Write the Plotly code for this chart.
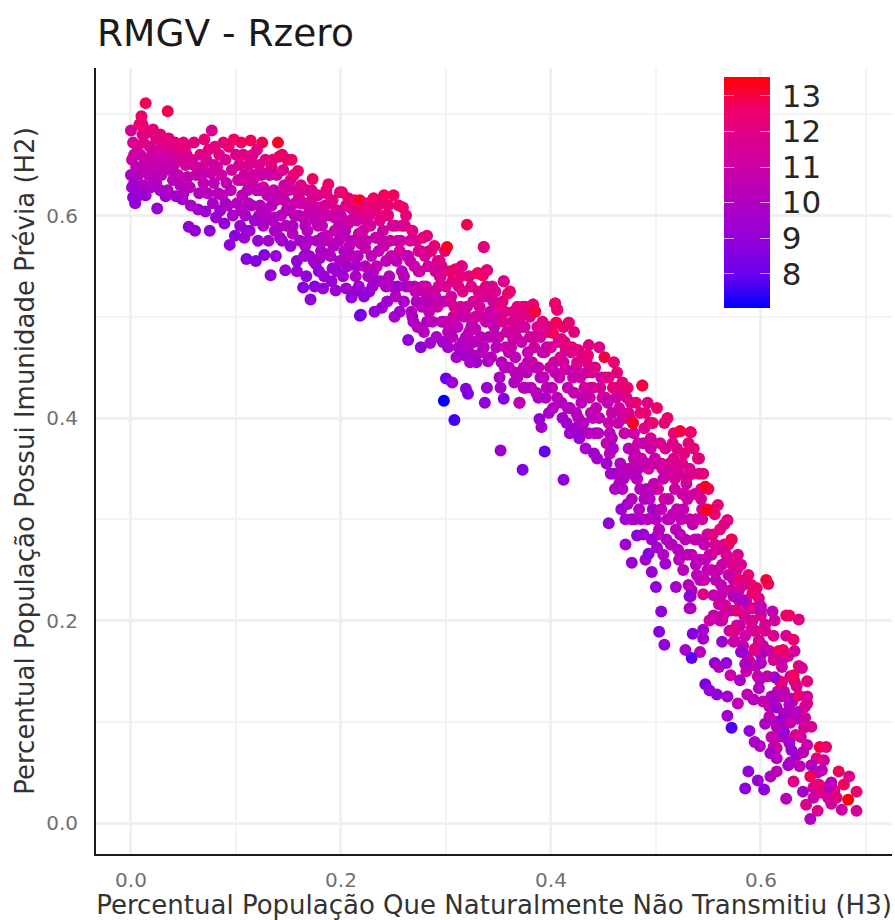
import plotly.graph_objects as go

x_a=[.000,.002,.001,.003,.000,.001,.002,.004,.003,.005, .006,.005,.008,.007,.009,.010,.008,.011,.010,.012, .014,.012,.013,.011,.015,.016,.014,.018,.017,.019, .020,.018,.021,.022,.020,.024,.023,.025,.026,.024, .028,.027,.029,.030,.028,.032,.031,.033,.035,.034, .036,.037,.035,.039,.038,.040,.042,.041,.043,.044, .046,.045,.047,.048,.049,.050,.050,.052,.054,.053]
y_a=[.684,.672,.655,.660,.640,.628,.618,.612,.632,.648, .668,.625,.690,.640,.660,.698,.620,.680,.645,.630, .711,.672,.655,.690,.650,.682,.620,.668,.640,.628, .660,.652,.685,.640,.630,.676,.650,.607,.665,.632, .680,.655,.640,.662,.625,.672,.648,.619,.703,.660, .676,.645,.625,.668,.655,.635,.672,.650,.619,.660, .668,.640,.630,.655,.616,.672,.622,.650,.638,.660]
r_a=[11.4,11.4,11.0,10.8,10.0,9.5,9.0,9.0,9.4,10.4, 11.8,9.2,12.4,10.0,11.2,12.6,9.1,12.2,10.4,9.9, 12.8,11.9,11.0,12.4,10.6,12.2,9.2,11.6,10.4,9.6, 11.2,10.8,12.2,10.4,9.9,12.0,10.8,9.2,11.4,10.1, 12.2,11.0,10.3,11.2,9.6,12.0,10.6,9.4,12.9,11.2, 12.2,10.6,9.9,11.8,11.0,10.4,12.0,10.8,9.4,11.4, 12.0,10.6,10.2,11.3,9.2,12.2,10.0,11.4,10.6,11.6]

x_b=[.052,.055,.058,.056,.060,.061,.062,.064,.066,.065, .068,.070,.069,.072,.071,.074,.073,.076,.077,.075, .078,.080,.079,.082,.081,.084,.083,.086,.085,.088, .087,.090,.091,.089,.093,.094,.092,.096,.095,.098, .097,.100,.099,.102,.101,.060,.067,.090,.079,.057]
y_b=[.668,.589,.655,.628,.672,.585,.640,.606,.660,.622, .648,.675,.632,.655,.604,.665,.622,.642,.684,.585, .612,.668,.632,.648,.598,.660,.622,.640,.605,.672, .620,.655,.632,.592,.668,.571,.610,.645,.625,.675, .600,.660,.580,.635,.612,.650,.640,.612,.650,.610]
r_b=[12.2,9.0,11.4,10.4,12.2,8.9,10.9,9.5,11.8,10.0, 11.2,12.4,10.6,11.6,9.3,12.0,10.2,10.9,11.6,8.9, 9.8,12.2,10.5,11.4,9.2,12.0,10.2,11.0,9.3,12.2, 10.3,11.6,10.6,9.0,12.4,8.9,10.1,11.2,10.5,12.7, 9.6,11.8,8.9,11.0,10.0,11.3,10.7,9.8,11.2,9.8]

x_c=[.103,.105,.104,.107,.106,.108,.110,.109,.112,.111, .114,.113,.115,.117,.116,.119,.118,.120,.122,.121, .123,.125,.124,.127,.126,.128,.130,.129,.133,.132, .131,.135,.134,.136,.137,.140,.139,.138,.141,.143, .142,.145,.144,.147,.146,.148,.149,.105,.120,.135]
y_c=[.650,.672,.590,.660,.620,.640,.557,.600,.650,.625, .674,.585,.610,.640,.660,.555,.595,.625,.650,.575, .610,.672,.640,.561,.590,.655,.620,.600,.541,.640, .575,.655,.610,.625,.585,.672,.640,.560,.658,.600, .620,.645,.575,.546,.630,.590,.655,.605,.665,.595]
r_c=[11.5,12.7,9.3,12.0,10.4,11.1,8.6,9.6,11.6,10.4, 12.8,9.2,10.0,11.2,11.8,8.6,9.5,10.6,11.6,9.2, 10.2,12.9,11.0,8.8,9.8,12.0,10.5,10.1,8.9,11.0, 9.6,12.2,10.2,10.6,9.8,13.2,11.2,9.1,12.6,10.3, 10.7,11.6,9.5,9.1,11.1,10.0,12.4,10.1,12.0,10.0]

x_d=[.150,.151,.153,.152,.155,.154,.156,.159,.158,.157, .160,.162,.161,.164,.163,.166,.165,.168,.167,.171, .170,.169,.173,.172,.174,.176,.175,.178,.177,.180, .179,.183,.182,.181,.185,.184,.186,.188,.187,.190, .189,.192,.191,.195,.194,.193,.197,.196,.199,.198]
y_d=[.625,.605,.655,.570,.640,.590,.612,.644,.555,.625, .600,.630,.575,.529,.612,.590,.560,.625,.540,.517, .605,.575,.636,.615,.555,.595,.530,.620,.575,.608, .545,.528,.590,.565,.610,.540,.625,.631,.580,.560, .600,.615,.535,.526,.585,.570,.605,.545,.623,.590]
r_d=[11.2,10.5,12.7,9.3,12.2,10.0,10.9,12.5,9.0,11.4, 10.4,11.8,9.6,8.7,11.0,10.2,9.4,11.6,9.0,9.0, 10.6,9.8,12.7,11.4,9.5,10.5,8.9,11.8,10.0,11.0, 9.0,9.2,10.5,10.0,11.4,9.3,12.2,12.5,10.5,10.0, 11.0,12.0,9.1,9.2,10.6,10.2,11.6,9.4,12.5,10.7]

x_e=[.200,.201,.203,.202,.205,.204,.207,.206,.209,.208, .210,.212,.211,.214,.213,.216,.215,.218,.217,.219, .221,.220,.223,.222,.225,.224,.227,.226,.229,.228, .231,.230,.233,.232,.235,.234,.237,.236,.239,.238, .241,.240,.243,.242,.245,.244,.247,.246,.249,.248]
y_e=[.600,.623,.565,.540,.610,.585,.617,.550,.595,.570, .519,.605,.575,.540,.615,.560,.595,.615,.530,.502, .585,.605,.550,.520,.612,.575,.600,.540,.560,.590, .617,.530,.578,.505,.610,.550,.595,.565,.509,.535, .620,.585,.555,.600,.610,.515,.575,.540,.590,.560]
r_e=[10.8,12.4,9.9,9.4,12.0,10.4,12.5,9.6,11.1,10.2, 9.0,11.6,10.4,9.8,12.5,10.1,11.2,13.2,9.4,8.3, 11.0,12.2,10.3,9.0,12.3,10.6,11.8,9.8,10.4,11.3, 12.7,9.4,10.8,9.0,12.4,10.4,12.0,10.6,9.3,9.8, 12.8,11.2,10.5,12.2,12.4,9.4,11.0,10.1,11.8,10.6]

x_f=[.250,.252,.251,.253,.255,.254,.257,.256,.259,.258, .261,.260,.263,.262,.264,.266,.265,.268,.267,.270, .269,.272,.271,.274,.273,.276,.275,.278,.277,.280, .279,.282,.281,.284,.283,.286,.285,.288,.287,.290, .289,.292,.291,.294,.293,.296,.295,.298,.297,.299]
y_f=[.620,.590,.500,.555,.610,.530,.575,.505,.608,.545, .590,.515,.560,.600,.477,.575,.530,.585,.505,.550, .495,.575,.525,.565,.490,.470,.545,.578,.510,.560, .485,.580,.530,.505,.550,.565,.474,.525,.495,.545, .570,.510,.480,.555,.530,.495,.540,.515,.475,.565]
r_f=[12.8,11.4,9.6,10.4,12.5,9.5,11.0,9.4,12.7,10.1, 11.8,9.8,10.6,12.2,9.0,11.4,10.2,12.0,10.0,10.9, 9.8,11.8,10.6,11.6,10.2,8.8,11.0,12.2,10.2,11.4, 10.3,12.2,11.0,10.6,11.2,12.0,9.5,11.1,10.4,11.3, 12.2,10.8,9.8,12.0,11.2,10.2,11.6,10.8,9.4,12.2]

x_g=[.301,.300,.303,.302,.305,.304,.307,.306,.309,.308, .310,.312,.311,.314,.313,.315,.317,.316,.319,.318, .320,.322,.321,.324,.323,.326,.325,.328,.327,.330, .329,.331,.333,.332,.335,.334,.336,.338,.337,.339, .340,.342,.341,.344,.343,.346,.345,.348,.347,.349]
y_g=[.569,.530,.495,.470,.520,.545,.500,.480,.547,.510, .460,.530,.490,.510,.470,.550,.500,.525,.480,.462, .510,.485,.470,.530,.455,.515,.495,.500,.475,.543, .455,.525,.480,.510,.541,.465,.569,.495,.520,.546, .456,.505,.480,.530,.460,.490,.515,.470,.525,.500]
r_g=[13.2,11.6,10.8,9.6,11.4,12.4,11.0,10.2,12.5,11.6, 9.6,12.0,10.4,11.4,9.8,12.2,10.8,12.0,10.2,9.4, 11.2,10.5,10.1,12.0,9.8,11.4,10.6,11.2,10.2,12.8, 9.6,11.8,10.6,11.5,13.0,10.2,12.5,10.8,11.6,12.4, 9.5,11.0,10.4,11.6,10.2,10.6,11.4,10.3,11.8,11.0]

x_h=[.350,.352,.351,.354,.353,.355,.357,.356,.359,.358, .361,.360,.363,.362,.365,.364,.367,.366,.369,.368, .370,.372,.371,.374,.373,.376,.375,.378,.377,.380, .379,.381,.383,.382,.385,.384,.387,.386,.389,.388, .391,.390,.393,.392,.395,.394,.397,.396,.399,.398]
y_h=[.480,.510,.440,.495,.455,.535,.470,.505,.523,.485, .525,.450,.495,.470,.435,.505,.480,.460,.490,.440, .415,.475,.500,.450,.510,.430,.490,.465,.445,.480, .505,.430,.512,.455,.505,.470,.490,.425,.399,.450, .391,.480,.440,.495,.420,.465,.485,.430,.450,.405]
r_h=[10.6,12.2,9.8,11.6,10.2,12.0,10.8,11.8,12.6,11.0, 12.4,10.3,11.6,10.8,10.0,12.0,11.0,10.5,11.4,10.2, 9.1,10.8,11.6,10.5,12.2,10.2,11.2,10.6,10.4,11.2, 12.2,10.3,12.7,10.8,13.0,11.2,11.8,10.2,9.2,10.6, 9.6,11.4,10.4,12.0,10.0,10.8,11.8,10.4,10.7,9.8]

x_i=[.400,.402,.401,.404,.403,.405,.406,.408,.407,.410, .409,.412,.411,.414,.413,.416,.415,.417,.419,.418, .421,.420,.423,.422,.425,.424,.426,.428,.427,.430, .429,.432,.431,.434,.433,.435,.437,.436,.439,.438, .441,.440,.443,.442,.445,.444,.447,.446,.449,.451]
y_i=[.470,.484,.430,.513,.455,.494,.507,.440,.475,.415, .460,.490,.400,.448,.475,.430,.395,.494,.465,.410, .440,.470,.390,.425,.455,.405,.467,.440,.380,.460, .415,.430,.395,.455,.370,.462,.420,.385,.445,.405, .365,.430,.410,.450,.385,.360,.430,.400,.420,.460]
r_i=[11.4,12.8,10.4,12.7,11.0,12.5,12.5,10.6,11.6,10.0, 11.4,12.2,9.6,11.1,12.2,10.5,9.4,12.5,11.6,10.1, 10.8,12.2,9.6,10.6,11.8,10.2,12.5,11.0,9.3,12.2, 10.3,11.2,10.1,12.0,9.8,12.2,10.8,10.2,11.6,10.4, 9.5,11.4,10.6,12.0,10.2,9.5,11.6,10.5,11.3,13.0]

x_j=[.452,.454,.453,.456,.455,.458,.457,.460,.459,.462, .461,.464,.463,.466,.465,.468,.467,.470,.469,.472, .471,.474,.473,.476,.475,.478,.477,.479,.481,.480, .483,.482,.485,.484,.487,.486,.489,.488,.491,.490, .493,.492,.495,.494,.497,.496,.499,.498,.501,.500]
y_j=[.440,.415,.355,.385,.440,.405,.345,.455,.370,.420, .330,.395,.445,.355,.410,.435,.310,.385,.340,.420, .300,.370,.430,.345,.400,.395,.320,.360,.415,.300, .375,.340,.405,.310,.432,.360,.390,.285,.330,.405, .350,.300,.380,.320,.395,.280,.360,.335,.410,.300]
r_j=[11.4,10.5,9.5,10.2,12.2,10.8,9.6,12.4,9.9,11.2, 9.8,10.6,12.2,10.0,11.2,12.2,9.4,10.8,10.0,11.8, 9.4,10.4,12.5,10.1,11.6,13.2,10.0,10.7,12.4,9.8, 11.0,10.2,12.2,10.1,13.0,10.8,11.6,9.5,10.2,12.4, 11.0,10.1,11.4,10.2,12.5,9.4,11.0,10.4,12.7,10.1]

x_k=[.502,.504,.503,.506,.505,.508,.507,.510,.509,.512, .511,.514,.513,.516,.515,.518,.517,.520,.519,.522, .521,.523,.525,.524,.527,.526,.529,.528,.531,.530, .533,.532,.535,.534,.537,.536,.539,.538,.541,.540, .543,.542,.545,.544,.547,.546,.549,.548,.551,.550]
y_k=[.330,.375,.290,.350,.310,.395,.340,.280,.370,.320, .400,.345,.300,.375,.275,.330,.385,.310,.355,.345, .270,.387,.325,.300,.365,.250,.340,.280,.375,.320, .386,.300,.345,.265,.325,.370,.245,.300,.345,.280, .320,.260,.345,.300,.332,.240,.285,.310,.265,.330]
r_k=[11.0,11.6,10.2,11.2,10.4,12.2,10.8,10.0,11.6,10.8, 12.5,11.2,10.5,11.8,10.1,11.0,12.4,10.6,11.6,11.4, 10.2,13.0,11.0,10.5,12.2,10.3,11.5,10.5,12.2,11.0, 12.7,10.6,11.8,10.4,11.2,12.2,10.4,11.0,12.0,10.6, 11.4,10.6,12.2,11.0,13.2,10.8,11.2,11.8,10.8,12.5]

x_l=[.552,.554,.553,.556,.555,.558,.557,.559,.561,.560, .563,.562,.565,.564,.567,.566,.569,.568,.570,.572, .571,.574,.573,.576,.575,.578,.577,.580,.579,.582, .581,.584,.583,.586,.585,.588,.587,.590,.589,.592, .591,.594,.593,.596,.595,.598,.597,.600,.599,.602]
y_l=[.309,.285,.250,.305,.225,.270,.240,.314,.290,.216, .255,.235,.295,.205,.265,.215,.245,.299,.190,.280, .230,.224,.255,.210,.180,.265,.195,.240,.220,.170, .255,.205,.235,.150,.185,.245,.215,.200,.160,.227, .235,.172,.212,.232,.190,.222,.145,.205,.214,.175]
r_l=[13.3,12.0,10.8,12.5,10.6,11.5,10.5,12.4,12.2,11.6, 11.0,10.6,12.0,11.2,11.5,11.6,10.8,12.2,10.8,12.8, 11.2,11.0,11.8,10.8,11.2,11.6,11.0,12.4,11.2,10.5, 11.8,11.4,11.6,11.0,11.0,12.4,11.2,11.6,11.0,12.6, 12.2,12.2,11.8,12.7,12.1,11.8,11.0,12.1,11.4,10.6]

x_m=[.505,.503,.508,.535,.528,.542,.534,.545,.545,.563, .556,.560,.567,.547,.551,.558,.568,.578,.568,.572, .589,.594,.599,.604,.588,.597,.585,.603,.624,.609, .647,.654,.643,.640,.683,.691,.691,.677,.667,.670, .664,.667,.655,.631,.647,.679,.684,.674,.658,.653, .656,.662,.644,.634,.629,.615,.609,.615,.626,.637, .648,.615,.627,.636,.631,.639,.631,.620,.617,.621, .620,.613,.612,.599,.598,.593,.587,.580,.571,.600, .600,.594,.598,.585,.581,.574,.574,.591,.604,.613, .611,.600,.600,.577,.563,.551,.533,.533,.545,.561, .574,.583,.592,.612,.619,.628,.636,.644,.644,.608, .615,.627,.622,.620,.635,.642,.628,.641,.622,.633, .627,.650,.640,.615,.607,.624,.610,.605,.629,.622]
y_m=[.209,.189,.176,.187,.171,.169,.163,.191,.182,.179, .158,.154,.158,.137,.131,.127,.125,.118,.106,.094, .091,.080,.076,.098,.051,.042,.034,.033,.024,.046, .004,.012,.018,.031,.023,.031,.012,.013,.019,.032, .036,.040,.038,.041,.046,.038,.046,.051,.052,.064, .075,.075,.077,.067,.072,.074,.069,.064,.057,.056, .057,.051,.205,.201,.181,.153,.146,.139,.170,.171, .154,.144,.161,.142,.133,.122,.127,.141,.146,.158, .166,.171,.180,.157,.169,.179,.191,.192,.196,.200, .209,.214,.210,.210,.200,.200,.212,.224,.226,.216, .224,.220,.227,.124,.125,.123,.126,.125,.118,.115, .114,.117,.108,.102,.103,.104,.099,.094,.090,.087, .079,.025,.070,.095,.236,.205,.085,.240,.110,.130]
r_m=[9.0,8.7,9.0,8.6,9.6,10.4,7.8,9.5,9.5,9.3, 9.0,10.0,9.0,8.5,9.1,9.0,9.4,10.5,9.4,7.7, 9.0,9.8,9.8,10.0,9.0,9.2,8.8,8.9,10.3,10.0, 10.0,11.8,11.8,9.7,13.5,12.4,11.5,11.0,11.4,12.0, 10.0,10.2,12.3,12.0,12.8,12.8,11.8,12.8,10.5,12.0, 13.0,12.5,11.0,9.5,9.2,11.0,9.7,10.0,9.5,10.5, 10.0,10.4,12.8,12.0,12.5,11.5,12.8,12.5,12.7,12.6, 11.0,9.5,11.5,10.5,10.0,10.3,10.5,9.8,11.0,10.0, 10.0,12.0,11.5,10.0,9.3,11.0,12.0,11.5,11.4,11.5, 10.5,10.8,10.6,12.0,11.0,11.0,10.0,9.5,12.0,11.0, 10.0,9.8,12.5,9.8,10.2,10.2,12.4,11.4,11.5,10.5, 9.5,10.0,10.0,9.2,10.0,11.0,11.0,11.5,9.2,11.6, 9.5,10.8,10.4,10.2,12.5,12.6,10.8,13.0,10.0,10.6]

x_n=[.298,.308,.300,.306,.319,.321,.337,.339,.355,.370, .352,.373,.394,.412,.455,.471,.482,.477,.493,.501, .496,.509,.500,.519,.532,.532,.523,.533,.547,.548, .568,.572,.405,.417,.426,.435,.383,.385,.404,.406, .320,.336,.315,.331,.339,.335,.355,.487,.478,.218]
y_n=[.417,.398,.439,.435,.429,.424,.415,.430,.419,.415, .368,.349,.367,.339,.296,.275,.284,.257,.266,.272, .248,.256,.233,.233,.224,.212,.387,.386,.332,.309, .299,.280,.494,.494,.467,.462,.512,.505,.513,.507, .591,.569,.550,.543,.546,.541,.535,.432,.395,.501]
r_n=[7.1,7.6,8.0,9.3,8.8,8.5,9.0,9.2,8.6,10.5, 9.3,8.6,7.9,9.0,9.0,9.5,9.0,9.2,8.6,9.6, 9.2,9.5,9.0,9.6,9.0,10.0,13.0,12.6,13.2,13.3, 12.0,12.8,12.8,12.4,12.0,12.2,12.4,13.0,12.6,12.4, 12.9,12.2,12.0,12.7,12.0,12.6,11.8,13.0,13.2,8.3]

x_o=[.106,.112,.118,.124,.128,.134,.138,.144,.148,.110, .116,.122,.130,.136,.142,.146,.108,.126,.140,.114, .156,.162,.168,.174,.180,.186,.192,.198,.154,.160, .166,.172,.178,.184,.190,.196,.158,.164,.170,.176, .182,.188,.194,.199,.152,.168,.176,.186,.192,.178]
y_o=[.635,.612,.638,.625,.605,.648,.615,.660,.605,.585, .632,.600,.642,.598,.578,.615,.578,.628,.588,.655, .600,.612,.585,.598,.558,.600,.548,.575,.582,.618, .570,.625,.590,.575,.612,.605,.545,.598,.560,.608, .578,.562,.598,.555,.635,.612,.552,.622,.572,.598]
r_o=[11.2,10.6,11.6,11.0,10.2,12.0,10.5,12.2,10.2,9.4, 11.4,10.2,11.8,10.1,9.6,10.9,9.3,11.2,10.0,12.2, 10.6,11.2,10.2,10.8,9.6,10.6,9.3,10.3,10.2,11.6, 10.0,12.0,10.5,10.2,11.5,11.2,9.3,10.9,9.6,11.4, 10.3,9.8,10.8,9.4,11.8,11.4,9.3,11.8,10.1,11.0]

x_p=[.203,.209,.215,.221,.227,.233,.239,.245,.249,.205, .211,.217,.223,.229,.235,.241,.247,.207,.213,.219, .225,.231,.237,.243,.202,.254,.260,.266,.272,.278, .284,.290,.296,.252,.258,.264,.270,.276,.282,.288, .294,.256,.262,.268,.274,.280,.286,.292,.298,.279]
y_p=[.580,.608,.550,.598,.525,.605,.575,.600,.530,.528, .560,.582,.568,.610,.535,.570,.558,.592,.525,.572, .590,.545,.612,.530,.555,.575,.540,.555,.515,.530, .565,.520,.550,.520,.590,.560,.530,.565,.495,.510, .540,.565,.530,.500,.545,.515,.520,.555,.495,.525]
r_p=[10.4,11.8,9.7,11.6,9.0,12.2,10.8,12.0,9.8,9.4, 10.5,11.2,10.8,12.2,9.4,10.8,10.4,11.4,9.3,11.0, 11.4,10.0,12.2,10.0,10.2,11.2,10.2,10.8,10.0,10.4, 11.4,10.1,11.2,10.1,12.0,10.8,10.3,11.6,9.6,10.2, 11.1,11.5,10.4,9.7,11.0,10.2,10.6,11.6,10.2,10.7]

x_q=[.304,.310,.316,.322,.328,.334,.340,.346,.306,.312, .318,.324,.330,.336,.342,.348,.302,.314,.326,.338, .354,.360,.366,.372,.378,.384,.390,.396,.356,.362, .368,.374,.380,.386,.392,.398,.352,.364,.376,.388, .404,.410,.416,.422,.428,.434,.440,.446,.406,.412, .418,.424,.430,.436,.442,.448,.402,.414,.426,.438]
y_q=[.515,.500,.475,.540,.488,.500,.520,.480,.535,.470, .505,.490,.515,.470,.495,.505,.485,.540,.462,.530, .515,.465,.445,.490,.455,.480,.440,.470,.450,.485, .510,.430,.500,.450,.465,.490,.430,.478,.510,.420, .445,.478,.410,.485,.390,.445,.400,.470,.420,.455, .385,.450,.420,.472,.385,.440,.410,.468,.400,.430]
r_q=[11.4,10.8,10.2,12.2,10.6,11.0,11.8,10.4,12.2,10.1, 11.4,10.8,11.6,10.2,11.0,11.5,10.6,12.2,10.0,12.0, 11.8,10.4,10.2,11.2,10.2,11.0,10.1,10.8,10.2,11.1, 11.8,10.0,11.6,10.4,10.5,11.5,9.6,10.8,11.8,9.6, 10.6,12.0,10.2,12.2,9.6,11.0,10.1,11.8,10.4,11.4, 9.5,11.0,10.4,12.0,9.6,10.8,10.3,11.8,10.2,10.8]

x_r=[.452,.458,.464,.470,.476,.482,.488,.494,.500,.455, .461,.467,.473,.479,.485,.491,.497,.456,.462,.468, .474,.480,.486,.492,.498,.453,.459,.465,.471,.477, .483,.489,.495,.475,.490,.505,.511,.517,.523,.529, .535,.541,.547,.508,.514,.520,.526,.532,.538,.544, .550,.507,.513,.519,.525,.531,.537,.543,.549,.510, .516,.522,.528,.534,.540,.546,.502,.518,.530,.542]
y_r=[.420,.380,.425,.350,.415,.340,.375,.395,.355,.395, .345,.405,.315,.385,.330,.355,.310,.365,.430,.330, .405,.365,.300,.415,.330,.375,.430,.335,.400,.300, .350,.320,.370,.350,.260,.355,.300,.360,.285,.335, .295,.360,.260,.320,.275,.370,.310,.350,.255,.310, .285,.265,.355,.290,.355,.235,.280,.330,.250,.345, .305,.260,.325,.230,.360,.275,.285,.340,.265,.240]
r_r=[11.4,10.3,11.8,10.1,11.6,10.1,10.6,11.2,10.4,11.0, 10.0,11.6,9.6,11.0,10.2,10.4,9.6,10.4,12.2,10.1, 11.8,10.6,10.0,12.0,10.1,10.6,12.2,10.2,11.4,9.6, 10.4,10.0,11.0,10.6,9.6,11.4,10.2,11.8,10.2,11.2, 10.4,12.2,10.2,11.0,10.1,12.0,10.8,11.6,10.1,11.2, 11.0,10.0,11.8,10.4,12.0,10.2,10.6,12.0,10.4,11.6, 10.6,10.2,11.2,10.2,12.2,10.6,10.4,11.6,10.4,10.5]

x_s=[.556,.562,.568,.574,.580,.586,.592,.598,.559,.565, .571,.577,.583,.589,.595,.553,.561,.569,.579,.587, .593,.575,.585,.555,.604,.608,.612,.616,.620,.624, .628,.632,.636,.606,.610,.614,.618,.622,.626,.630, .634,.638,.642,.608,.616,.624,.632,.640,.644,.648, .602,.612,.628,.636,.650,.658,.664,.672,.654,.660]
y_s=[.275,.225,.260,.240,.195,.220,.200,.180,.250,.275, .210,.250,.175,.212,.155,.265,.200,.275,.230,.165, .190,.190,.240,.205,.190,.170,.185,.130,.160,.185, .145,.170,.110,.145,.125,.100,.140,.085,.165,.120, .135,.085,.115,.105,.085,.100,.140,.070,.140,.095, .120,.075,.060,.155,.035,.030,.025,.025,.050,.062]
r_s=[11.6,10.8,11.8,11.0,10.8,11.2,11.0,10.6,11.0,11.6, 10.6,11.4,10.6,11.0,10.4,11.8,10.6,12.2,11.0,10.4, 11.2,10.6,11.8,10.6,11.8,11.0,11.6,10.5,11.0,11.6, 10.6,11.2,10.4,10.8,10.4,10.2,11.2,10.6,11.6,11.2, 11.4,11.0,11.4,10.6,10.4,10.8,12.0,11.0,12.2,11.6, 10.8,10.6,10.5,12.2,11.8,12.2,11.2,12.2,10.8,11.2]

rmgv_segments=[(x_o,y_o,r_o),(x_p,y_p,r_p),(x_q,y_q,r_q),(x_r,y_r,r_r),(x_s,y_s,r_s),
               (x_a,y_a,r_a),(x_b,y_b,r_b),(x_c,y_c,r_c),(x_d,y_d,r_d),(x_e,y_e,r_e),(x_f,y_f,r_f),(x_g,y_g,r_g),
               (x_h,y_h,r_h),(x_i,y_i,r_i),(x_j,y_j,r_j),(x_k,y_k,r_k),(x_l,y_l,r_l),(x_m,y_m,r_m),(x_n,y_n,r_n)]
xs,ys,rs=[],[],[]
for sx,sy,sr in rmgv_segments:
    n=min(len(sx),len(sy),len(sr))
    xs+=sx[:n]; ys+=sy[:n]; rs+=sr[:n]

title_text="RMGV - Rzero"
x_title="Percentual População Que Naturalmente Não Transmitiu (H3)"
y_title="Percentual População Possui Imunidade Prévia (H2)"
bar_ticks=[8,9,10,11,12,13]
FONT="DejaVu Sans"
cmin,cmax=7.04,13.53
scale=[[0,"#0000ff"],[.125,"#6300f0"],[.25,"#8800df"],[.375,"#a300ce"],[.5,"#ba00ba"],
       [.625,"#ce00a3"],[.75,"#df0088"],[.875,"#f00063"],[1,"#ff0000"]]

bar_x=(724-96)/796
bar_common=dict(xanchor="left",xref="paper",y=(854-77)/786,yanchor="top",yref="paper",
    len=231/786,lenmode="fraction",thicknessmode="pixels",xpad=0,ypad=0,outlinewidth=0,
    tickmode="array",tickvals=bar_ticks,tickwidth=1)
tick_white=dict(ticks="inside",ticklen=10,tickcolor="rgba(255,255,255,0.6)",showticklabels=False,thickness=10)

fig=go.Figure()
fig.add_trace(go.Scatter(x=xs,y=ys,mode="markers",hoverinfo="skip",showlegend=False,
    marker=dict(size=12,color=rs,cmin=cmin,cmax=cmax,colorscale=scale,line=dict(width=0),
        colorbar=dict(bar_common,x=bar_x,thickness=46,ticktext=[str(t) for t in bar_ticks],
            ticks="outside",ticklen=6,tickcolor="rgba(0,0,0,0)",
            tickfont=dict(family=FONT,size=31,color="#262626")))))
for tick_x in (724,760):
    fig.add_trace(go.Scatter(x=xs[:1],y=ys[:1],mode="markers",hoverinfo="skip",showlegend=False,
        marker=dict(size=12,color=rs[:1],cmin=cmin,cmax=cmax,colorscale=scale,line=dict(width=0),
            colorbar=dict(bar_common,x=(tick_x-96)/796,**tick_white))))
axis=dict(showline=True,linecolor="#1a1a1a",linewidth=2,ticks="",zeroline=False,
    showgrid=True,gridcolor="#f0f0f0",gridwidth=3,dtick=0.2,tick0=0,tickformat=".1f",
    tickfont=dict(family=FONT,size=20,color="#707070"),
    minor=dict(dtick=0.1,tick0=0,showgrid=True,gridcolor="#f4f4f4",gridwidth=2,ticks=""))
fig.update_layout(width=895,height=920,paper_bgcolor="white",plot_bgcolor="white",
    margin=dict(l=96,r=3,t=68,b=66,pad=0),autosize=False,
    title=dict(text=title_text,x=97/895,xanchor="left",xref="container",y=1-33/920,yanchor="middle",
        font=dict(family=FONT,size=37.5,color="#1a1a1a")),
    xaxis=dict(axis,range=[-0.0333,0.7248],ticklabelstandoff=7,
        title=dict(text=x_title,standoff=4,font=dict(family=FONT,size=26,color="#333333"))),
    yaxis=dict(axis,range=[-0.0306,0.7457],ticklabelstandoff=12,
        title=dict(text=y_title,standoff=4,font=dict(family=FONT,size=26,color="#333333"))))
fig.write_html("out.html",config=dict(displayModeBar=False),
    post_script="document.body.style.margin='0';document.body.style.overflow='hidden';")
